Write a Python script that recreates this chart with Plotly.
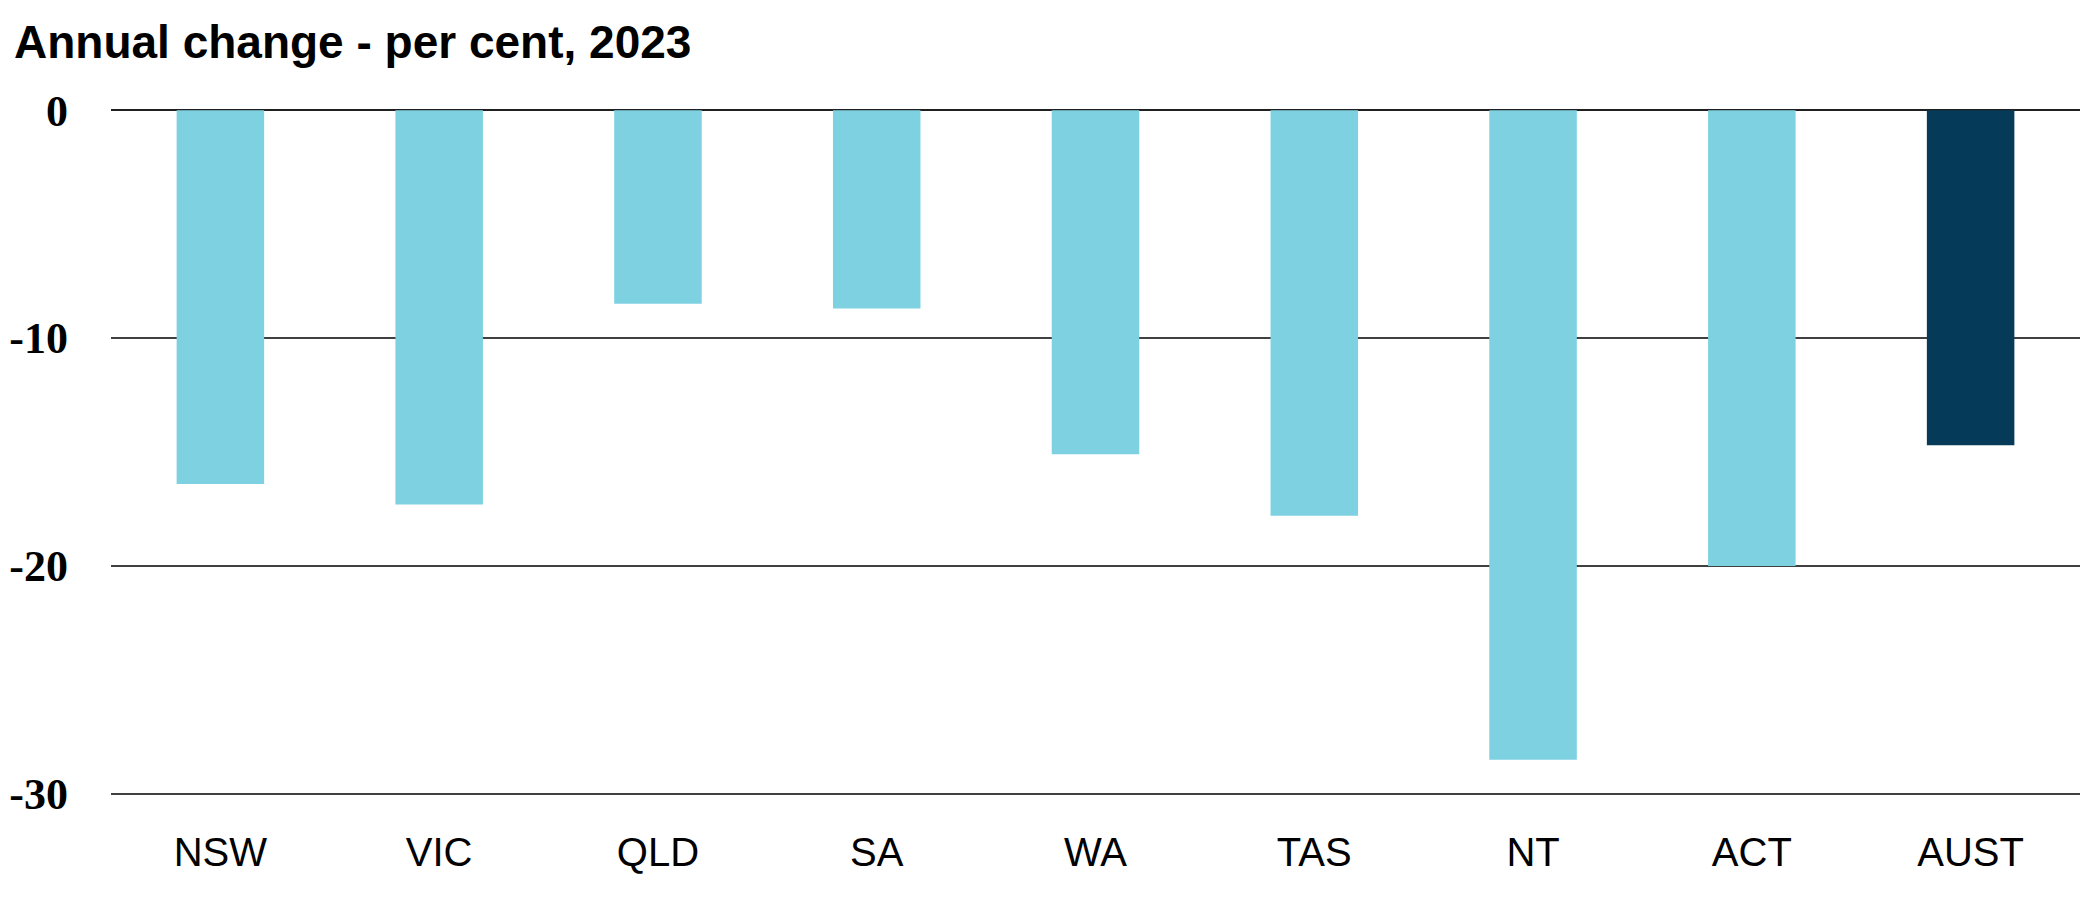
import plotly.graph_objects as go

regions = ["NSW", "VIC", "QLD", "SA", "WA", "TAS", "NT", "ACT", "AUST"]
annual_change = [-16.4, -17.3, -8.5, -8.7, -15.1, -17.8, -28.5, -20.0, -14.7]
y_ticks = [0, -10, -20, -30]
y_tick_labels = ["0", "-10", "-20", "-30"]

light = "#7DD1E1"
dark = "#053B58"
bar_colors = [dark if r == "AUST" else light for r in regions]

fig = go.Figure()
fig.add_trace(go.Bar(
    x=regions,
    y=annual_change,
    marker_color=bar_colors,
    marker_line_width=0,
    showlegend=False))

# page body has an 8px default margin, so the figure is offset by that much
fig.update_layout(
    width=2094, height=912,
    paper_bgcolor="white", plot_bgcolor="white",
    margin=dict(l=103, r=22, t=101, b=125),
    bargap=0.6,
    title=dict(text="<b>Annual change - per cent, 2023</b>",
               xref="container", yref="container",
               x=6 / 2094, xanchor="left",
               y=1 - 34 / 912, yanchor="middle",
               font=dict(family="Liberation Sans", size=46, color="black")),
)
fig.update_xaxes(
    automargin=False,
    showgrid=False, showline=False, zeroline=False,
    tickfont=dict(family="Liberation Sans", size=40, color="black"),
    ticklabelstandoff=30)
fig.update_yaxes(
    automargin=False,
    range=[-30.05, 0.05],
    tickvals=y_ticks, ticktext=y_tick_labels,
    showgrid=True, gridcolor="#404040", gridwidth=1.5,
    zeroline=True, zerolinecolor="#202020", zerolinewidth=1.5,
    showline=False,
    tickfont=dict(family="Liberation Serif", size=44, color="black",
                  weight="bold"),
    ticklabelstandoff=42)

fig.write_html("out.html")
